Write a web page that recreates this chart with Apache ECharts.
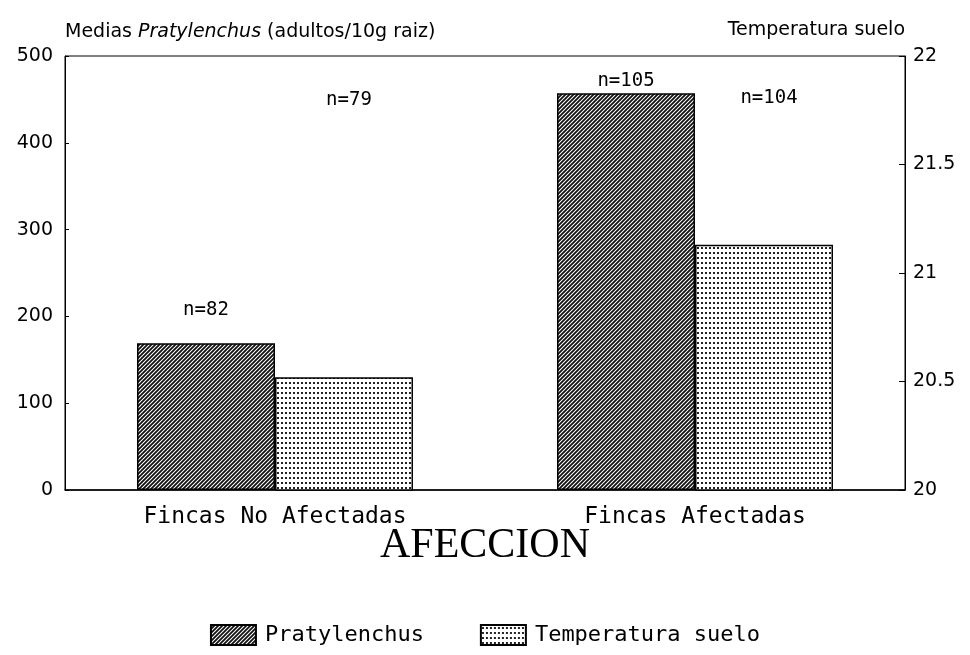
<!DOCTYPE html>
<html>
<head>
<meta charset="utf-8">
<script src="https://cdn.jsdelivr.net/npm/echarts@6/dist/echarts.min.js"></script>
<style>
  html, body { margin: 0; padding: 0; background: #fff; }
  #chart { width: 970px; height: 655px; }
</style>
</head>
<body>
<div id="chart"></div>
<script>
// data
var categories = ['Fincas No Afectadas', 'Fincas Afectadas'];
var pratylenchus = [169, 457];
var temperatura = [20.52, 21.13];
var nPraty = ['n=82', 'n=105'];
var nTemp = ['n=79', 'n=104'];

// pattern fills
function hatchPattern() {
    var c = document.createElement('canvas');
    c.width = 4; c.height = 4;
    var ctx = c.getContext('2d');
    ctx.fillStyle = '#fff';
    ctx.fillRect(0, 0, 4, 4);
    ctx.strokeStyle = '#111';
    ctx.lineWidth = 1.8;
    ctx.beginPath();
    ctx.moveTo(-1, 5); ctx.lineTo(5, -1);
    ctx.moveTo(-1, 1); ctx.lineTo(1, -1);
    ctx.moveTo(3, 5); ctx.lineTo(5, 3);
    ctx.stroke();
    return c;
}
function dotPattern() {
    var c = document.createElement('canvas');
    c.width = 4; c.height = 5;
    var ctx = c.getContext('2d');
    ctx.fillStyle = '#fff';
    ctx.fillRect(0, 0, 4, 5);
    ctx.fillStyle = '#222';
    ctx.fillRect(1, 2, 2, 2);
    return c;
}

var myChart = echarts.init(document.getElementById('chart'));
var monoFont = '"DejaVu Sans Mono", monospace';
var sansFont = '"DejaVu Sans", sans-serif';

var option = {
    backgroundColor: '#fff',
    animation: false,
    grid: {
        left: 65, right: 65, top: 56, bottom: 165,
        show: true, borderColor: '#000', borderWidth: 1
    },
    legend: {
        bottom: 4,
        left: 'center',
        itemWidth: 45,
        itemHeight: 20,
        itemGap: 56,
        icon: 'rect',
        textStyle: { fontFamily: monoFont, fontSize: 22, color: '#000', padding: [0, 0, 0, 4] },
        data: ['Pratylenchus', 'Temperatura suelo']
    },
    xAxis: {
        type: 'category',
        data: categories,
        name: 'AFECCION',
        nameLocation: 'middle',
        nameGap: 35,
        nameMoveOverlap: false,
        nameTextStyle: { fontFamily: '"Liberation Serif", serif', fontSize: 42, color: '#000' },
        axisTick: { show: false },
        axisLine: { lineStyle: { color: '#000', width: 1.5 } },
        axisLabel: { fontFamily: monoFont, fontSize: 23, color: '#000', margin: 16 }
    },
    yAxis: [
        {
            type: 'value',
            min: 0, max: 500, interval: 100,
            name: '{n|Medias }{i|Pratylenchus}{n| (adultos/10g raiz)}',
            nameLocation: 'end',
            nameGap: 14,
            nameTextStyle: {
                align: 'left',
                rich: {
                    n: { fontFamily: sansFont, fontSize: 19, color: '#000' },
                    i: { fontFamily: sansFont, fontSize: 19, fontStyle: 'italic', color: '#000' }
                }
            },
            splitLine: { show: false },
            axisLine: { show: true, lineStyle: { color: '#000', width: 1 } },
            axisTick: { show: true, inside: true, length: 4, lineStyle: { color: '#000' } },
            axisLabel: { fontFamily: sansFont, fontSize: 19, color: '#000', margin: 12 }
        },
        {
            type: 'value',
            min: 20, max: 22, interval: 0.5,
            name: 'Temperatura suelo',
            nameLocation: 'end',
            nameGap: 16,
            nameTextStyle: { align: 'right', fontFamily: sansFont, fontSize: 19, color: '#000' },
            splitLine: { show: false },
            axisLine: { show: true, lineStyle: { color: '#000', width: 1 } },
            axisTick: { show: true, inside: true, length: 6, lineStyle: { color: '#000' } },
            axisLabel: { fontFamily: sansFont, fontSize: 19, color: '#000', margin: 8 }
        }
    ],
    series: [
        {
            name: 'Pratylenchus',
            type: 'bar',
            yAxisIndex: 0,
            barWidth: 138,
            barGap: '0%',
            itemStyle: {
                color: { image: hatchPattern(), repeat: 'repeat' },
                borderColor: '#000',
                borderWidth: 1.5
            },
            label: {
                show: true,
                position: 'top',
                fontFamily: monoFont,
                fontSize: 19,
                color: '#000',
                formatter: function (p) { return nPraty[p.dataIndex]; }
            },
            data: [
                { value: pratylenchus[0], label: { distance: 24 } },
                { value: pratylenchus[1], label: { distance: 3 } }
            ]
        },
        {
            name: 'Temperatura suelo',
            type: 'bar',
            yAxisIndex: 1,
            barWidth: 138,
            barGap: '0%',
            itemStyle: {
                color: { image: dotPattern(), repeat: 'repeat' },
                borderColor: '#000',
                borderWidth: 1.5
            },
            label: {
                show: true,
                position: 'top',
                fontFamily: monoFont,
                fontSize: 19,
                color: '#000',
                formatter: function (p) { return nTemp[p.dataIndex]; }
            },
            data: [
                { value: temperatura[0], label: { offset: [5, -263] } },
                { value: temperatura[1], label: { offset: [5, -132] } }
            ]
        }
    ]
};
myChart.setOption(option);
</script>
</body>
</html>
